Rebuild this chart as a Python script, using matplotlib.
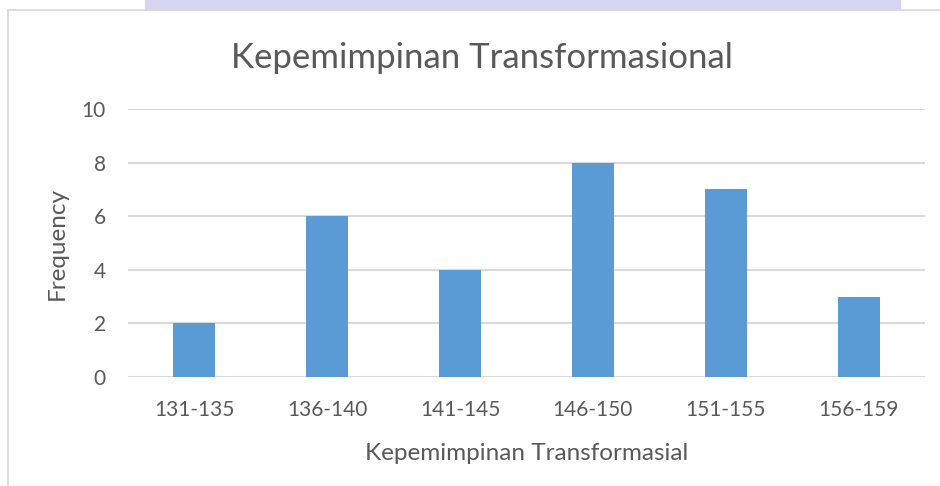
import matplotlib
matplotlib.use("Agg")
import matplotlib.pyplot as plt
from matplotlib.lines import Line2D
from matplotlib.patches import Rectangle

categories = ["131-135", "136-140", "141-145", "146-150", "151-155", "156-159"]
frequency = [2, 6, 4, 8, 7, 3]

title = "Kepemimpinan Transformasional"
xlabel = "Kepemimpinan Transformasial"
ylabel = "Frequency"

plt.rcParams['font.family'] = ['Lato', 'DejaVu Sans']
txt = "#595959"
grid = "#d9d9d9"

fig = plt.figure(figsize=(9.4, 4.86), dpi=100)
W, H = 940, 486

# watermark strip at the very top (cropped logo)
fig.patches.append(Rectangle((145 / W, 1 - 9 / H), 755 / W, 9 / H,
                             transform=fig.transFigure, color="#d6d6f3", zorder=0))

# chart frame (left and top edges visible)
fig.lines.append(Line2D([8 / W, 8 / W], [0, 1 - 10 / H], transform=fig.transFigure,
                        color=grid, lw=1.3))
fig.lines.append(Line2D([8 / W, 1], [1 - 10 / H, 1 - 10 / H], transform=fig.transFigure,
                        color=grid, lw=1.3))

ax = fig.add_axes([128 / W, 1 - 377 / H, (925 - 128) / W, (377 - 109) / H])
x = range(len(categories))
ax.bar(x, frequency, width=0.316, color="#5b9bd5", zorder=3)

ax.set_xlim(-0.5, len(categories) - 0.5)
ax.set_ylim(0, 10)
ax.set_yticks([0, 2, 4, 6, 8, 10])
ax.set_xticks(list(x))
ax.set_xticklabels(categories)
ax.yaxis.grid(True, color=grid, lw=1.5, zorder=0)
ax.set_axisbelow(True)
for s in ax.spines.values():
    s.set_visible(False)
ax.tick_params(length=0, labelsize=15, colors=txt)
ax.tick_params(axis="x", pad=16.2)
ax.tick_params(axis="y", pad=16)

ax.set_xlabel(xlabel, fontsize=17.5, color=txt)
ax.xaxis.set_label_coords(0.5, -0.248)
ax.set_ylabel(ylabel, fontsize=17.5, color=txt)
ax.yaxis.set_label_coords(-0.075, 0.5)
fig.text(482 / W, 1 - 68 / H, title, fontsize=25, color=txt, ha="center", va="baseline")

fig.savefig("out.png", dpi=100, facecolor="white")
